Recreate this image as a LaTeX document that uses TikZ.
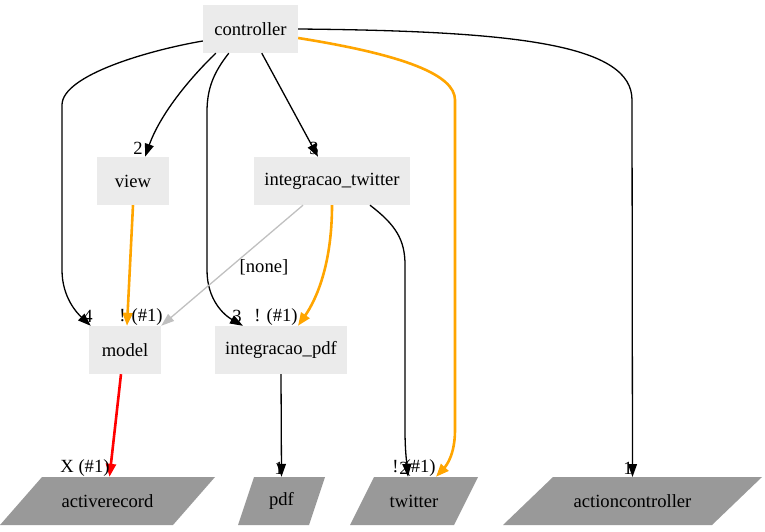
\documentclass[tikz,border=0pt]{standalone}
\usepackage{fontspec}
\setmainfont{Liberation Serif}
\usetikzlibrary{arrows.meta}
\definecolor{boxgray}{HTML}{EBEBEB}
\definecolor{pgray}{HTML}{999999}
\definecolor{lgray}{HTML}{C0C0C0}
\definecolor{gvorange}{HTML}{FFA500}
\tikzset{
  every node/.style={font=\fontsize{18.6pt}{21pt}\selectfont, inner sep=0pt},
  boxnode/.style={fill=boxgray, minimum height=48pt},
  pnode/.style={minimum height=48pt},
  lbl/.style={},
  edge/.style={draw=black, line width=1.3pt, -{Triangle[length=13pt,width=9pt]}},
  oedge/.style={draw=gvorange, line width=2.6pt, -{Triangle[length=13pt,width=10pt]}},
  redge/.style={draw=red, line width=2.6pt, -{Triangle[length=13pt,width=10pt]}},
  gedge/.style={draw=lgray, line width=1.3pt, -{Triangle[length=13pt,width=9pt]}},
}
\begin{document}
\begin{tikzpicture}[x=1pt,y=-1pt]
\useasboundingbox (0,0) rectangle (765,531);
% parallelogram backgrounds
\fill[pgray] (0,525) -- (42,477) -- (215,477) -- (173,525) -- cycle;
\fill[pgray] (238,525) -- (254,477) -- (325,477) -- (309,525) -- cycle;
\fill[pgray] (350,525) -- (374,477) -- (478,477) -- (454,525) -- cycle;
\fill[pgray] (503,525) -- (553,477) -- (762,477) -- (712,525) -- cycle;
% nodes
\node[boxnode, minimum width=95pt] (controller) at (250.5,29) {controller};
\node[boxnode, minimum width=72pt] (view) at (133,181) {view};
\node[boxnode, minimum width=156pt] (integracao_twitter) at (332,181) {integracao\_twitter};
\node[boxnode, minimum width=72pt] (model) at (125,350) {model};
\node[boxnode, minimum width=132pt] (integracao_pdf) at (281,350) {integracao\_pdf};
\node[pnode] (activerecord) at (107.5,501) {activerecord};
\node[pnode] (pdf) at (281.5,501) {pdf};
\node[pnode] (twitter) at (414,501) {twitter};
\node[pnode] (actioncontroller) at (632.5,501) {actioncontroller};
% edges
\draw[edge] ([yshift=-12pt]controller.west) .. controls (150,50) and (62,75) .. (62,105) -- (62,270) .. controls (62,298) and (78,314) .. ([xshift=2pt]model.north west);
\draw[edge] ([xshift=13pt]controller.south west) .. controls (188,80) and (160,115) .. ([xshift=12pt]view.north);
\draw[edge] ([xshift=26pt]controller.south west) .. controls (214,72) and (207,88) .. (207,112) -- (207,270) .. controls (207,300) and (224,315) .. ([xshift=-38pt]integracao_pdf.north);
\draw[edge] ([xshift=59pt]controller.south west) -- ([xshift=-14pt]integracao_twitter.north);
\draw[edge] (controller.east) .. controls (520,31) and (632,45) .. (632,100) -- (632.5,477);
\draw[oedge] ([yshift=-9pt]controller.east) .. controls (405,55) and (455,75) .. (455,100) -- (455,430) .. controls (455,455) and (446,466) .. ([xshift=22pt]twitter.north);
\draw[oedge] (view.south) -- ([xshift=2pt]model.north);
\draw[gedge] ([xshift=-29pt]integracao_twitter.south) -- (model.north east);
\draw[oedge] (integracao_twitter.south) .. controls (332,265) and (316,300) .. ([xshift=17pt]integracao_pdf.north);
\draw[edge] ([xshift=38pt]integracao_twitter.south) .. controls (396,225) and (405,240) .. (405,265) -- (405,430) .. controls (405,452) and (407,465) .. ([xshift=-6pt]twitter.north);
\draw[redge] ([xshift=-4pt]model.south) -- ([xshift=2pt]activerecord.north);
\draw[edge] (integracao_pdf.south) -- (pdf.north);
% labels
\node[lbl] (l4) at (88,316) {4};
\node[lbl] (lm) at (141,317) {! (\#1)};
\node[lbl] (l3p) at (237,316) {3};
\node[lbl] (lp) at (276,317) {! (\#1)};
\node[lbl] (l2v) at (138,148) {2};
\node[lbl] (l3t) at (314,148) {3};
\node[lbl] (lnone) at (264,267) {[none]};
\node[lbl] (lx) at (85,468) {X (\#1)};
\node[lbl] (l1p) at (279,468) {1};
\node[lbl] (l2t) at (404,468) {2};
\node[lbl] (lt) at (414,468) {! (\#1)};
\node[lbl] (l1a) at (628,468) {1};
\end{tikzpicture}
\end{document}
